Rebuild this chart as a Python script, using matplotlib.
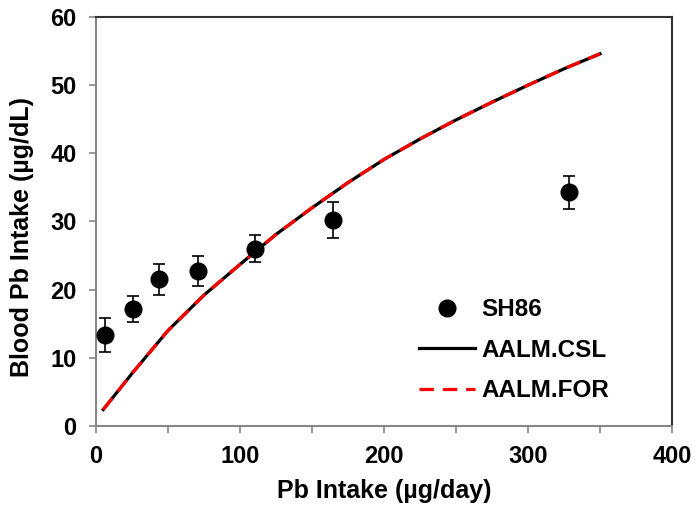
import matplotlib.pyplot as plt
from matplotlib.lines import Line2D
import numpy as np

plt.rcParams['font.family'] = ['Liberation Sans', 'DejaVu Sans']
plt.rcParams['font.weight'] = 'bold'

# SH86 observed data
sh86_x = [6, 25.5, 43.5, 70.5, 110.5, 164.5, 328.5]
sh86_y = [13.3, 17.1, 21.5, 22.7, 26.0, 30.2, 34.3]
sh86_err = [2.5, 1.9, 2.3, 2.2, 2.0, 2.7, 2.4]

# model curves (CSL and FOR overlap)
model_x = [5, 25, 50, 75, 100, 125, 150, 175, 200, 225, 250, 275, 300, 325, 350]
csl_y = [2.4, 7.7, 14.0, 19.2, 23.7, 28.1, 32.0, 35.7, 39.1, 42.1, 44.9, 47.5, 50.0, 52.4, 54.6]
for_y = [2.4, 7.7, 14.0, 19.2, 23.7, 28.1, 32.0, 35.7, 39.1, 42.1, 44.9, 47.5, 50.0, 52.4, 54.6]

fig = plt.figure(figsize=(6.96, 5.15), dpi=100)
ax = fig.add_axes([0.138, 0.173, 0.8275, 0.794])

ax.errorbar(sh86_x, sh86_y, yerr=sh86_err, fmt='o', color='black', ms=12,
            ecolor='black', elinewidth=1.2, capsize=4, capthick=1.2, zorder=3)
ax.plot(model_x, csl_y, color='black', lw=2.3, zorder=2)
ax.plot(model_x, for_y, color='red', lw=2.3, ls=(0, (4.5, 2.8)), zorder=2)

ax.set_xlim(0, 400)
ax.set_ylim(0, 60)
ax.set_xticks(np.arange(0, 401, 100))
ax.set_xticks(np.arange(0, 401, 50), minor=True)
ax.set_yticks(np.arange(0, 61, 10))

for s in ['left', 'bottom']:
    ax.spines[s].set_color('#868686')
    ax.spines[s].set_linewidth(1.5)
for s in ['top', 'right']:
    ax.spines[s].set_color('#333333')
    ax.spines[s].set_linewidth(1.5)

ax.tick_params(axis='both', which='both', direction='out', color='#868686', width=1.2,
               length=5, labelsize=17, pad=9)

ax.set_xlabel('Pb Intake (µg/day)', fontsize=18, fontweight='bold', labelpad=8)
ax.set_ylabel('Blood Pb Intake (µg/dL)', fontsize=18, fontweight='bold')
ax.yaxis.set_label_coords(-0.108, 0.463)

handles = [
    Line2D([], [], marker='o', ls='none', color='black', ms=12),
    Line2D([], [], color='black', lw=2.3),
    Line2D([], [], color='red', lw=2.3, ls=(0, (4.5, 2.8))),
]
labels = ['SH86', 'AALM.CSL', 'AALM.FOR']
ax.legend(handles, labels, loc='upper left', bbox_to_anchor=(0.588, 0.44),
          bbox_transform=fig.transFigure, frameon=False, fontsize=17.5,
          handlelength=2.3, handletextpad=0.25, labelspacing=0.72, borderaxespad=0)

fig.savefig('out.png', dpi=100)
